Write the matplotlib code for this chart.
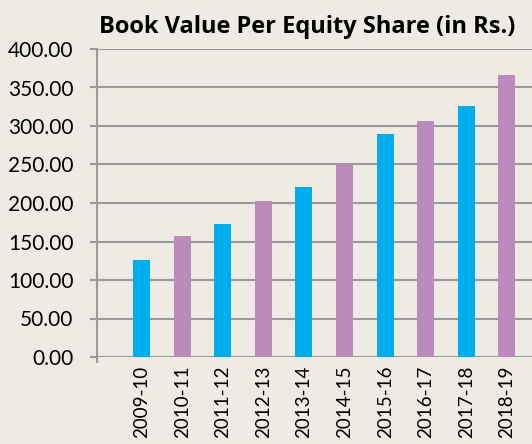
import matplotlib
matplotlib.use('Agg')
import matplotlib.pyplot as plt
import numpy as np

# Book value per equity share
years = ['2009-10', '2010-11', '2011-12', '2012-13', '2013-14',
         '2014-15', '2015-16', '2016-17', '2017-18', '2018-19']
book_value = [126.0, 157.0, 173.0, 203.0, 221.0,
              251.0, 290.0, 306.0, 326.0, 366.0]
yticks = [0, 50, 100, 150, 200, 250, 300, 350, 400]

bg = '#EEEBE4'
grid_col = '#9A9A9A'
colors = ['#00AEEF' if i % 2 == 0 else '#BC8BBE' for i in range(len(years))]

fig = plt.figure(figsize=(5.32, 4.44), dpi=100, facecolor=bg)
ax = fig.add_axes([97 / 532, 1 - 357 / 444, 1 - 97 / 532 + 0.01, (357 - 49) / 444])
ax.set_facecolor(bg)

x = np.arange(len(years))
ax.bar(x, book_value, width=0.42, color=colors, zorder=3)

ax.set_ylim(0, 400)
ax.set_xlim(-1.1, 9.75)
ax.set_yticks(yticks)
ax.set_yticklabels([f'{v:.2f}' for v in yticks], fontsize=15, family='Lato')
ax.set_xticks(x)
# labels kept a touch smaller than the reference so they fit inside the image
ax.set_xticklabels(years, rotation=90, fontsize=13.5, family='Lato')
ax.tick_params(axis='x', length=0, pad=6)
ax.tick_params(axis='y', length=5, width=1.5, color=grid_col, pad=12)
ax.set_xticks([-1.1], minor=True)
ax.tick_params(axis='x', which='minor', length=4, width=1.5, color=grid_col)

ax.yaxis.grid(True, color=grid_col, linewidth=1.5, zorder=0)
for side in ['top', 'right', 'bottom']:
    ax.spines[side].set_visible(False)
ax.spines['left'].set_color(grid_col)
ax.spines['left'].set_linewidth(1.5)

fig.text(0.578, 1 - 33 / 444, 'Book Value Per Equity Share (in Rs.)',
         ha='center', va='baseline', fontsize=17, fontweight='bold', family='Open Sans')

fig.savefig('out.png', dpi=100, facecolor=bg)
